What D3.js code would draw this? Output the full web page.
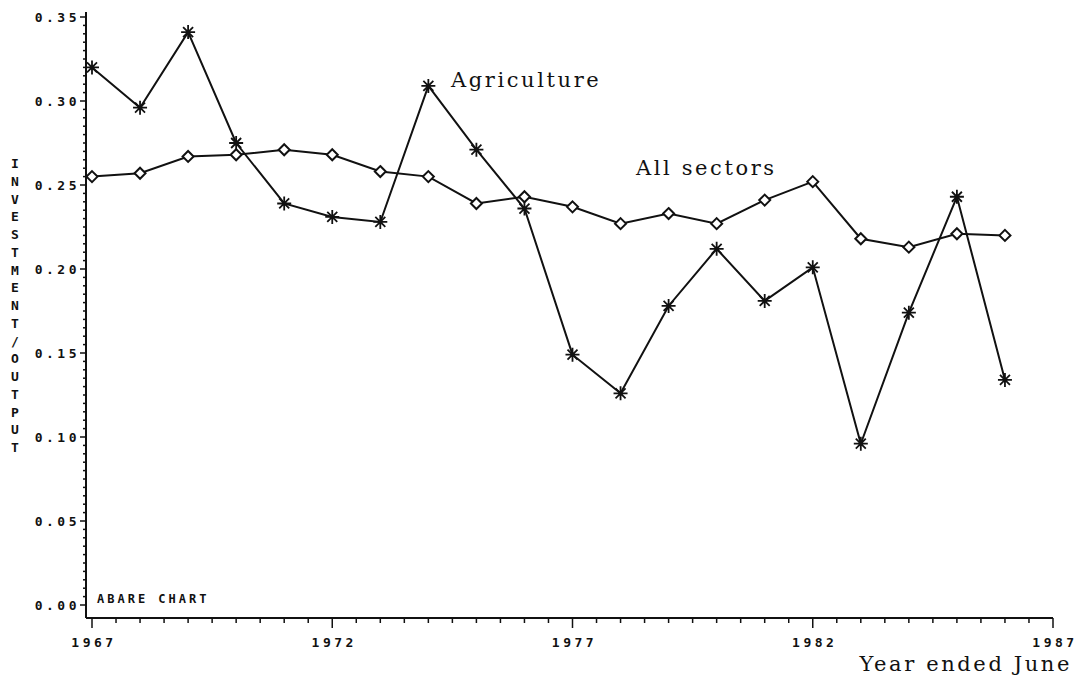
<!DOCTYPE html>
<html>
<head>
<meta charset="utf-8">
<script src="https://cdn.jsdelivr.net/npm/d3@7"></script>
<style>
  body { margin: 0; background: #fff; }
  svg { display: block; }
  .tick-label { font-family: "DejaVu Sans Mono", monospace; font-weight: bold; font-size: 13px; letter-spacing: 3.5px; fill: #111; }
  .series-label { font-family: "DejaVu Serif", "Liberation Serif", serif; font-size: 21px; letter-spacing: 2.6px; fill: #111; }
</style>
</head>
<body>
<div id="chart"></div>
<script>
// ## DATA ##
const years = d3.range(1967, 1987);
const agriculture = [0.320, 0.296, 0.341, 0.275, 0.239, 0.231, 0.228, 0.309, 0.271, 0.236,
                     0.149, 0.126, 0.178, 0.212, 0.181, 0.201, 0.096, 0.174, 0.243, 0.134];
const allSectors = [0.255, 0.257, 0.267, 0.268, 0.271, 0.268, 0.258, 0.255, 0.239, 0.243,
                    0.237, 0.227, 0.233, 0.227, 0.241, 0.252, 0.218, 0.213, 0.221, 0.220];
const yTicks = [0, 0.05, 0.10, 0.15, 0.20, 0.25, 0.30, 0.35];
const xTicks = [1967, 1972, 1977, 1982, 1987];
const yTitle = "INVESTMENT/OUTPUT";

const width = 1082, height = 678;
const axisX = 86, axisY = 618;

const x = d3.scaleLinear().domain([1967, 1987]).range([92, 1053]);
const y = d3.scaleLinear().domain([0, 0.35]).range([605, 17]);

const svg = d3.select("#chart").append("svg")
    .attr("width", width)
    .attr("height", height);

const ink = "#111";

// y axis line + ticks
svg.append("line")
    .attr("x1", axisX).attr("x2", axisX)
    .attr("y1", 12).attr("y2", axisY)
    .attr("stroke", ink).attr("stroke-width", 2);

svg.append("g").selectAll("line")
  .data(d3.range(0, 71).map(i => i * 0.005))
  .join("line")
    .attr("x1", axisX)
    .attr("x2", (d, i) => i % 10 === 0 ? axisX - 6 : axisX - 3)
    .attr("y1", d => y(d)).attr("y2", d => y(d))
    .attr("stroke", ink).attr("stroke-width", 1.5);

svg.append("g").selectAll("text")
  .data(yTicks)
  .join("text")
    .attr("class", "tick-label")
    .attr("x", 80)
    .attr("y", d => y(d) + 5)
    .attr("text-anchor", "end")
    .text(d => d.toFixed(2));

// x axis line + ticks
svg.append("line")
    .attr("x1", axisX).attr("x2", x(1987))
    .attr("y1", axisY).attr("y2", axisY)
    .attr("stroke", ink).attr("stroke-width", 2);

svg.append("g").selectAll("line")
  .data(d3.range(0, 41).map(i => 1967 + i * 0.5))
  .join("line")
    .attr("x1", d => x(d)).attr("x2", d => x(d))
    .attr("y1", axisY)
    .attr("y2", (d, i) => i % 10 === 0 ? axisY + 10 : axisY + 5)
    .attr("stroke", ink).attr("stroke-width", 1.5);

svg.append("g").selectAll("text")
  .data(xTicks)
  .join("text")
    .attr("class", "tick-label")
    .attr("x", d => x(d) + 2)
    .attr("y", 647)
    .attr("text-anchor", "middle")
    .text(d => d);

// y axis title, stacked letters
svg.append("g").selectAll("text")
  .data(yTitle.split(""))
  .join("text")
    .attr("class", "tick-label")
    .style("letter-spacing", "0px")
    .style("font-size", "13px")
    .attr("x", 15)
    .attr("y", (d, i) => 168 + i * 17.75)
    .attr("text-anchor", "middle")
    .text(d => d);

svg.append("text")
    .attr("class", "tick-label")
    .style("font-size", "12px")
    .style("letter-spacing", "3px")
    .attr("x", 97).attr("y", 603)
    .text("ABARE CHART");

svg.append("text")
    .attr("class", "series-label")
    .attr("x", 1072).attr("y", 671)
    .attr("text-anchor", "end")
    .text("Year ended June");

// lines
const line = d3.line()
    .x((d, i) => x(years[i]))
    .y(d => y(d));

svg.append("path")
    .datum(allSectors)
    .attr("d", line)
    .attr("fill", "none").attr("stroke", ink).attr("stroke-width", 2);

svg.append("path")
    .datum(agriculture)
    .attr("d", line)
    .attr("fill", "none").attr("stroke", ink).attr("stroke-width", 2);

// diamond markers
svg.append("g").selectAll("path")
  .data(allSectors)
  .join("path")
    .attr("transform", (d, i) => `translate(${x(years[i])},${y(d)})`)
    .attr("d", "M0,-5.5L5.5,0L0,5.5L-5.5,0Z")
    .attr("fill", "#fff").attr("stroke", ink).attr("stroke-width", 2);

// asterisk markers
const star = "M0,-7L0,7M-7,0L7,0M-5,-5L5,5M-5,5L5,-5";
svg.append("g").selectAll("path")
  .data(agriculture)
  .join("path")
    .attr("transform", (d, i) => `translate(${x(years[i])},${y(d)})`)
    .attr("d", star)
    .attr("fill", "none").attr("stroke", ink).attr("stroke-width", 1.8);

// series labels
svg.append("text")
    .attr("class", "series-label")
    .attr("x", 451).attr("y", 87)
    .text("Agriculture");

svg.append("text")
    .attr("class", "series-label")
    .attr("x", 636).attr("y", 175)
    .text("All sectors");
</script>
</body>
</html>
